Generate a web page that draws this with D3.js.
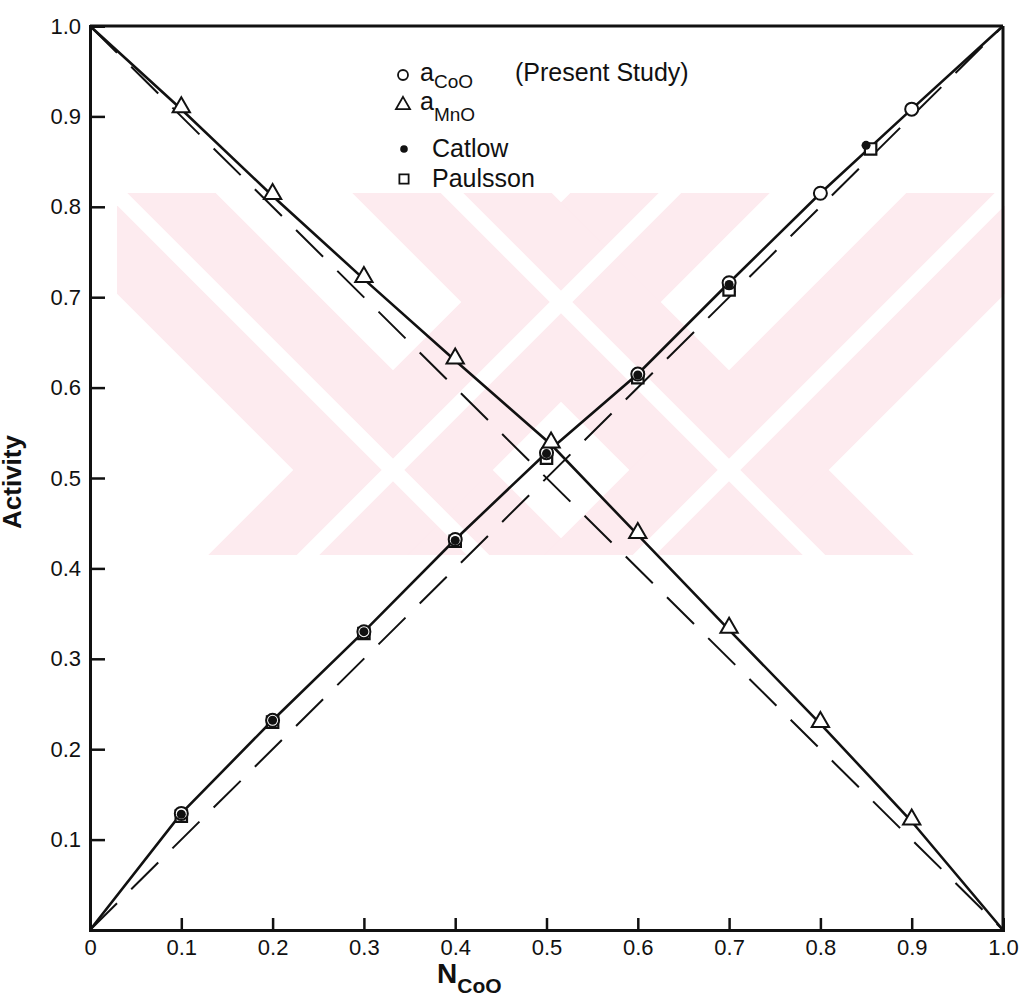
<!DOCTYPE html>
<html>
<head>
<meta charset="utf-8">
<script src="https://cdn.jsdelivr.net/npm/d3@7"></script>
<style>
  body { margin: 0; background: #fff; }
  svg text { font-family: "Liberation Sans", "DejaVu Sans", sans-serif; fill: #111; }
</style>
</head>
<body>
<div id="chart"></div>
<script>
// CoO-MnO activity data
var nCoO  = [0.1, 0.2, 0.3, 0.4, 0.5, 0.6, 0.7, 0.8, 0.9];
var aCoO  = [0.129, 0.232, 0.330, 0.432, 0.528, 0.615, 0.716, 0.815, 0.908];
var nMnO  = [0.1, 0.2, 0.3, 0.4, 0.505, 0.6, 0.7, 0.8, 0.9];
var aMnO  = [0.908, 0.812, 0.720, 0.630, 0.537, 0.437, 0.332, 0.228, 0.120];
var nCat  = [0.1, 0.2, 0.3, 0.4, 0.5, 0.6, 0.7, 0.85];
var aCat  = [0.128, 0.232, 0.330, 0.431, 0.527, 0.614, 0.714, 0.868];
var nPaul = [0.1, 0.2, 0.3, 0.4, 0.5, 0.6, 0.7, 0.855];
var aPaul = [0.126, 0.230, 0.328, 0.430, 0.522, 0.611, 0.708, 0.864];
var tickVals = [0, 0.1, 0.2, 0.3, 0.4, 0.5, 0.6, 0.7, 0.8, 0.9, 1.0];
var yTickVals = [0.1, 0.2, 0.3, 0.4, 0.5, 0.6, 0.7, 0.8, 0.9, 1.0];

var width = 1020, height = 1007;

var svg = d3.select("#chart").append("svg")
    .attr("width", width)
    .attr("height", height);

var x = d3.scaleLinear().domain([0, 1]).range([90, 1003]);
var y = d3.scaleLinear().domain([0, 1]).range([930, 26]);

/* faint watermark in the background: two pink X shapes */
svg.append("clipPath").attr("id", "wmclip")
  .append("rect").attr("x", 117).attr("y", 193).attr("width", 888).attr("height", 362);
var wm = svg.append("g").attr("clip-path", "url(#wmclip)");
var xCenters = [393, 729];
var arms = [];
xCenters.forEach(function(cx) {
  arms.push([cx - 420, 470 - 420, cx + 200, 470 + 200]);
  arms.push([cx + 420, 470 - 420, cx - 200, 470 + 200]);
});
wm.selectAll("line.band").data(arms).enter().append("line")
    .attr("class", "band")
    .attr("x1", d => d[0]).attr("y1", d => d[1])
    .attr("x2", d => d[2]).attr("y2", d => d[3])
    .attr("stroke", "#fdebef").attr("stroke-width", 141);
wm.selectAll("line.gap").data(arms).enter().append("line")
    .attr("class", "gap")
    .attr("x1", d => d[0]).attr("y1", d => d[1])
    .attr("x2", d => d[2]).attr("y2", d => d[3])
    .attr("stroke", "#fff").attr("stroke-width", 16);

/* AXES */
var xAxis = d3.axisBottom(x)
    .tickValues(tickVals)
    .tickSize(-12)
    .tickPadding(9)
    .tickFormat(d => d === 0 ? "0" : d3.format(".1f")(d));

var yAxis = d3.axisLeft(y)
    .tickValues(yTickVals)
    .tickSize(-15)
    .tickPadding(9)
    .tickFormat(d3.format(".1f"));

var gx = svg.append("g").attr("transform", "translate(0," + y(0) + ")").call(xAxis);
var gy = svg.append("g").attr("transform", "translate(" + x(0) + ",0)").call(yAxis);

[gx, gy].forEach(function(g) {
  g.select(".domain").attr("stroke", "#111").attr("stroke-width", 3);
  g.selectAll(".tick line").attr("stroke", "#111").attr("stroke-width", 2.5);
  g.selectAll(".tick text").attr("font-size", 22).attr("font-family", "Liberation Sans, sans-serif").attr("fill", "#111");
});
gx.selectAll(".tick line").filter(d => d === 0 || d === 1).remove();
gy.selectAll(".tick line").filter(d => d === 1).remove();

// top and right frame
svg.append("line")
  .attr("x1", x(0)).attr("y1", y(1)).attr("x2", x(1)).attr("y2", y(1))
  .attr("stroke", "#111").attr("stroke-width", 3);
svg.append("line")
  .attr("x1", x(1)).attr("y1", y(1)).attr("x2", x(1)).attr("y2", y(0))
  .attr("stroke", "#111").attr("stroke-width", 3);

/* LINES */
var line = d3.line().x(d => x(d[0])).y(d => y(d[1]));

var ideal1 = [[0, 0], [1, 1]];
var ideal2 = [[0, 1], [1, 0]];
[ideal1, ideal2].forEach(function(p) {
  svg.append("path").attr("d", line(p))
    .attr("fill", "none").attr("stroke", "#111")
    .attr("stroke-width", 2).attr("stroke-dasharray", "38,20");
});

var coLine = [[0, 0]].concat(nCoO.map((n, i) => [n, aCoO[i]]), [[1, 1]]);
var mnLine = [[0, 1]].concat(nMnO.map((n, i) => [n, aMnO[i]]), [[1, 0]]);
[coLine, mnLine].forEach(function(p) {
  svg.append("path").attr("d", line(p))
    .attr("fill", "none").attr("stroke", "#111").attr("stroke-width", 2.6);
});

/* POINTS */
var sq = d3.symbol().type(d3.symbolSquare).size(130);
var tri = d3.symbol().type(d3.symbolTriangle).size(130);

svg.append("g").selectAll("path")
  .data(nPaul.map((n, i) => [n, aPaul[i]])).enter().append("path")
    .attr("d", sq)
    .attr("transform", d => "translate(" + x(d[0]) + "," + y(d[1]) + ")")
    .attr("fill", "#fff").attr("stroke", "#111").attr("stroke-width", 2.2);

svg.append("g").selectAll("circle")
  .data(nCoO.map((n, i) => [n, aCoO[i]])).enter().append("circle")
    .attr("cx", d => x(d[0])).attr("cy", d => y(d[1])).attr("r", 6.5)
    .attr("fill", "#fff").attr("stroke", "#111").attr("stroke-width", 2);

svg.append("g").selectAll("circle")
  .data(nCat.map((n, i) => [n, aCat[i]])).enter().append("circle")
    .attr("cx", d => x(d[0])).attr("cy", d => y(d[1])).attr("r", 4.5)
    .attr("fill", "#111");

svg.append("g").selectAll("path")
  .data(nMnO.map((n, i) => [n, aMnO[i]])).enter().append("path")
    .attr("d", tri)
    .attr("transform", d => "translate(" + x(d[0]) + "," + (y(d[1]) - 2) + ")")
    .attr("fill", "#fff").attr("stroke", "#111").attr("stroke-width", 2);

/* LEGEND */
var leg = svg.append("g");
leg.append("circle").attr("cx", 403).attr("cy", 75).attr("r", 5)
  .attr("fill", "#fff").attr("stroke", "#111").attr("stroke-width", 1.8);
var t1 = leg.append("text").attr("x", 420).attr("y", 81).attr("font-size", 25);
t1.append("tspan").text("a");
t1.append("tspan").attr("dy", 7).attr("font-size", 19).text("CoO");
leg.append("text").attr("x", 515).attr("y", 81).attr("font-size", 25).text("(Present Study)");

leg.append("path").attr("d", d3.symbol().type(d3.symbolTriangle).size(85))
  .attr("transform", "translate(403,105)")
  .attr("fill", "#fff").attr("stroke", "#111").attr("stroke-width", 1.8);
var t2 = leg.append("text").attr("x", 420).attr("y", 110).attr("font-size", 25);
t2.append("tspan").text("a");
t2.append("tspan").attr("dy", 11).attr("font-size", 19).text("MnO");

leg.append("circle").attr("cx", 404).attr("cy", 149).attr("r", 3.8).attr("fill", "#111");
leg.append("text").attr("x", 432).attr("y", 157).attr("font-size", 25).text("Catlow");

leg.append("path").attr("d", d3.symbol().type(d3.symbolSquare).size(85))
  .attr("transform", "translate(404,179)")
  .attr("fill", "#fff").attr("stroke", "#111").attr("stroke-width", 1.8);
leg.append("text").attr("x", 432).attr("y", 187).attr("font-size", 25).text("Paulsson");

/* AXIS TITLES */
var xt = svg.append("text").attr("x", 437).attr("y", 983)
  .attr("font-size", 28).attr("font-weight", "bold");
xt.append("tspan").text("N");
xt.append("tspan").attr("dy", 10).attr("font-size", 21).text("CoO");

svg.append("text")
  .attr("transform", "translate(21,482) rotate(-90)")
  .attr("text-anchor", "middle")
  .attr("font-size", 26)
  .attr("font-weight", "bold")
  .text("Activity");
</script>
</body>
</html>
